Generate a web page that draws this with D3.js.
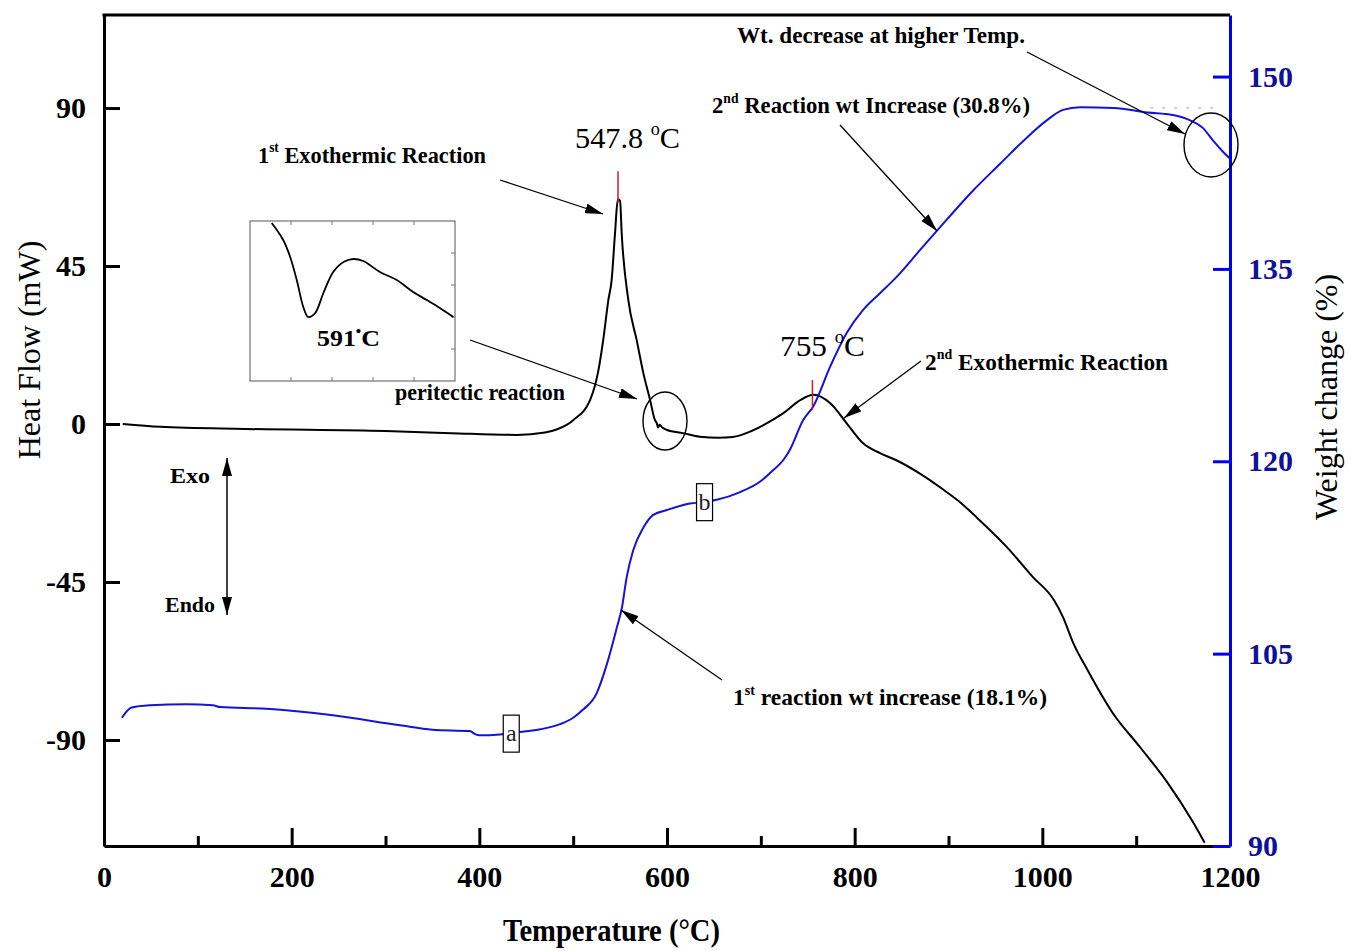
<!DOCTYPE html>
<html>
<head>
<meta charset="utf-8">
<script src="https://cdn.jsdelivr.net/npm/d3@7"></script>
<style>
  body { margin: 0; background: #fff; }
  text { font-family: "Liberation Serif", "Times New Roman", serif; }
</style>
</head>
<body>
<div id="chart"></div>
<script>
// DSC curve (heat flow, mW) vs temperature
const dscTemp = [20, 60, 150, 300, 370, 440, 470, 483, 500, 518, 527, 532, 537.5, 541, 544.6, 547.6, 550,
  551.7, 558.8, 567.7, 574.8, 582, 587.2, 589, 590.5, 592, 595, 600, 617, 635, 655, 670, 690, 707, 724, 742, 756,
  774, 791.5, 809, 827, 845, 870, 894, 912, 930, 962, 990, 1012, 1022, 1033, 1048, 1075, 1104, 1133, 1161, 1173];
const dscFlow = [0, -0.8, -1.4, -2.0, -2.6, -3.1, -2.4, -1.5, 1.1, 6.8, 15.4, 23.9, 35.3, 41, 54.3, 64, 63.5,
  54.4, 35.3, 23.9, 14.5, 6.8, 1.1, 0.3, -1.0, -0.2, -1.0, -1.7, -2.6, -3.6, -3.9, -3.7, -2.0, 0.3, 3.1, 6.8, 8.3,
  5.9, 0.2, -5.5, -8.3, -10.4, -14.2, -18.6, -22.2, -26.6, -35, -43.6, -50, -55, -62.4, -70, -82.3, -92, -102, -113.6, -119.3];

// TGA curve (weight change, %) vs temperature
const tgaTemp = [19, 29.5, 49, 88, 116, 124, 173, 244, 315.5, 350, 390, 396, 400, 422, 443, 465, 486, 500, 510, 525, 536,
  546.6, 552, 557, 564, 575, 585, 600, 624.5, 638, 653, 678, 699, 713, 724, 731, 745, 756, 774, 791.5, 809,
  827, 845, 870, 888, 926, 955, 980, 1005, 1022, 1040, 1076, 1112, 1139, 1157, 1171, 1182, 1193, 1200];
const tgaWeight = [100.0, 100.8, 100.97, 101.05, 100.97, 100.83, 100.7, 100.19, 99.41, 99.07, 98.96, 98.7, 98.63,
  98.7, 98.89, 99.1, 99.5, 100.0, 100.6, 101.9, 104.2, 107.05, 108.6, 110.95, 113.06, 114.85, 115.8, 116.2, 116.7, 116.8,
  117.0, 117.6, 118.4, 119.3, 120.1, 120.9, 123.2, 124.3, 127.4, 130.0, 131.8, 133.1, 134.4, 136.5, 138.0, 141.1,
  143.2, 145.0, 146.6, 147.4, 147.6, 147.55, 147.2, 147.0, 146.6, 146.0, 145.0, 144.1, 143.6];

// inset: zoom on the peritectic dip
const insetTemp = [582.3, 585.1, 586.8, 588.4, 590.0, 591.2, 592.9, 594.9, 597.3, 599.8, 602.2, 604.6, 608.7,
  612.8, 616.8, 620.1, 623.3, 626.6];
const insetFlow = [-0.02, -0.19, -0.36, -0.59, -0.86, -0.96, -0.92, -0.72, -0.51, -0.41, -0.38, -0.40, -0.51,
  -0.59, -0.71, -0.79, -0.87, -0.96];

const tempTicks = [0, 200, 400, 600, 800, 1000, 1200];
const tempMinorTicks = [100, 300, 500, 700, 900, 1100];
const flowTicks = [-90, -45, 0, 45, 90];
const weightTicks = [90, 105, 120, 135, 150];

const peakTemps = [547.8, 755];
const peakLow = [63, 4];
const peakHigh = [72, 12.5];

const pointLabels = ["a", "b"];
const pointTemps = [434, 640];
const pointWeights = [98.8, 116.85];

const plateauTemps = [1115, 1188];
const plateauWeight = 147.55;

const W = 1351, H = 951;
const plotLeft = 104, plotRight = 1230, plotTop = 15, plotBottom = 846;

const svg = d3.select("#chart").append("svg")
  .attr("width", W).attr("height", H);

const defs = svg.append("defs");
defs.append("marker")
  .attr("id", "head")
  .attr("viewBox", "0 0 18 10")
  .attr("refX", 18).attr("refY", 5)
  .attr("markerWidth", 18).attr("markerHeight", 10)
  .attr("markerUnits", "userSpaceOnUse")
  .attr("orient", "auto-start-reverse")
  .append("path").attr("d", "M0,0 L18,5 L0,10 Z").attr("fill", "#000");

const x = d3.scaleLinear().domain([0, 1200]).range([plotLeft, plotRight]);
const yFlow = d3.scaleLinear().domain([-120.2, 116.5]).range([plotBottom, plotTop]);
const yWeight = d3.scaleLinear().domain([90, 154.8]).range([plotBottom, plotTop]);

// curves
const flowLine = d3.line().x(d => x(d[0])).y(d => yFlow(d[1])).curve(d3.curveMonotoneX);
const weightLine = d3.line().x(d => x(d[0])).y(d => yWeight(d[1])).curve(d3.curveMonotoneX);

svg.append("path")
  .datum(dscTemp.map((t, i) => [t, dscFlow[i]]))
  .attr("d", flowLine)
  .attr("fill", "none").attr("stroke", "#000").attr("stroke-width", 2);

svg.append("path")
  .datum(tgaTemp.map((t, i) => [t, tgaWeight[i]]))
  .attr("d", weightLine)
  .attr("fill", "none").attr("stroke", "#1414d2").attr("stroke-width", 2);

svg.append("line")
  .attr("x1", x(plateauTemps[0])).attr("x2", x(plateauTemps[1]))
  .attr("y1", yWeight(plateauWeight)).attr("y2", yWeight(plateauWeight))
  .attr("stroke", "#b5b5b5").attr("stroke-width", 1.2).attr("stroke-dasharray", "3,9");

// peak markers
svg.selectAll(".peak")
  .data(peakTemps)
  .join("line")
  .attr("class", "peak")
  .attr("x1", d => x(d)).attr("x2", d => x(d))
  .attr("y1", (d, i) => yFlow(peakLow[i])).attr("y2", (d, i) => yFlow(peakHigh[i]))
  .attr("stroke", "#c8202a").attr("stroke-width", 1.5);

// a / b boxes on the TGA curve
const boxes = svg.selectAll(".pt")
  .data(pointLabels)
  .join("g")
  .attr("class", "pt")
  .attr("transform", (d, i) => `translate(${x(pointTemps[i])},${yWeight(pointWeights[i])})`);
boxes.append("rect")
  .attr("x", -8).attr("y", -18).attr("width", 16).attr("height", 37)
  .attr("fill", "#fff").attr("stroke", "#000").attr("stroke-width", 1.2);
boxes.append("text")
  .attr("text-anchor", "middle").attr("y", 8)
  .style("font-size", "24px").attr("fill", "#222")
  .text(d => d);

// axes
const plain = d => String(d);
const xAxis = svg.append("g")
  .attr("transform", `translate(0,${plotBottom})`)
  .call(d3.axisBottom(x).tickValues(tempTicks).tickFormat(plain)
    .tickSizeInner(-18).tickSizeOuter(0).tickPadding(20));
svg.append("g")
  .attr("transform", `translate(0,${plotBottom})`)
  .call(d3.axisBottom(x).tickValues(tempMinorTicks).tickSizeInner(-10).tickSizeOuter(0).tickFormat(""))
  .call(g => g.select(".domain").remove());

const yAxis = svg.append("g")
  .attr("transform", `translate(${plotLeft},0)`)
  .call(d3.axisLeft(yFlow).tickValues(flowTicks).tickFormat(plain)
    .tickSizeInner(-16).tickSizeOuter(0).tickPadding(18));

const wAxis = svg.append("g")
  .attr("transform", `translate(${plotRight},0)`)
  .call(d3.axisRight(yWeight).tickValues(weightTicks).tickFormat(plain)
    .tickSizeInner(-17).tickSizeOuter(0).tickPadding(18));

svg.selectAll(".domain, .tick line").attr("stroke-width", 3);
[xAxis, yAxis].forEach(g => {
  g.selectAll(".domain, .tick line").attr("stroke", "#000");
  g.selectAll("text").attr("fill", "#000");
});
wAxis.selectAll(".domain, .tick line").attr("stroke", "#0000f0");
wAxis.selectAll("text").attr("fill", "#10109a");
svg.selectAll(".tick text")
  .style("font-family", "'Liberation Serif', serif")
  .style("font-size", "30px").style("font-weight", "bold");

svg.append("line")
  .attr("x1", plotLeft - 1.5).attr("x2", plotRight).attr("y1", plotTop).attr("y2", plotTop)
  .attr("stroke", "#000").attr("stroke-width", 3);

// axis titles
svg.append("text")
  .attr("transform", "translate(40,350) rotate(-90)")
  .attr("text-anchor", "middle")
  .style("font-size", "32px")
  .text("Heat Flow (mW)");
svg.append("text")
  .attr("transform", "translate(1337,397) rotate(-90)")
  .attr("text-anchor", "middle")
  .style("font-size", "32px")
  .text("Weight change (%)");
svg.append("text")
  .attr("x", 503).attr("y", 941)
  .attr("textLength", 217).attr("lengthAdjust", "spacingAndGlyphs")
  .style("font-size", "32px").style("font-weight", "bold")
  .text("Temperature (°C)");

// inset
const xi = d3.scaleLinear().domain([577, 627]).range([250, 455]);
const yi = d3.scaleLinear().domain([-1.6, 0]).range([381, 221]);
const inset = svg.append("g");
inset.append("rect")
  .attr("x", 250).attr("y", 221).attr("width", 205).attr("height", 160)
  .attr("fill", "none").attr("stroke", "#555").attr("stroke-width", 1);
inset.selectAll(".itx")
  .data([587, 597, 607, 617])
  .join("path")
  .attr("d", d => `M${xi(d)},221v4M${xi(d)},381v-4`)
  .attr("stroke", "#777").attr("stroke-width", 1);
inset.selectAll(".ity")
  .data([-1.28, -0.96, -0.64, -0.32])
  .join("path")
  .attr("d", d => `M455,${yi(d)}h-4`)
  .attr("stroke", "#777").attr("stroke-width", 1);
inset.append("path")
  .datum(insetTemp.map((t, i) => [t, insetFlow[i]]))
  .attr("d", d3.line().x(d => xi(d[0])).y(d => yi(d[1])).curve(d3.curveCatmullRom))
  .attr("fill", "none").attr("stroke", "#000").attr("stroke-width", 1.8);

// annotations
function label(px, py, parts, size, weight, len) {
  const t = svg.append("text").attr("x", px).attr("y", py)
    .style("font-size", size + "px").style("font-weight", weight);
  let up = false;
  parts.forEach(p => {
    const sup = p.startsWith("^");
    const s = t.append("tspan").text(sup ? p.slice(1) : p);
    if (sup) {
      s.attr("dy", -size * 0.45).style("font-size", (size * 0.6) + "px");
      up = true;
    } else if (up) {
      s.attr("dy", size * 0.45);
      up = false;
    }
  });
  if (len) t.attr("textLength", len).attr("lengthAdjust", "spacingAndGlyphs");
  return t;
}

label(258, 163, ["1", "^st", " Exothermic Reaction"], 24, "bold", 228);
label(575, 148, ["547.8 ", "^o", "C"], 30, "normal", 105);
label(780, 356, ["755 ", "^o", "C"], 30, "normal", 85);
label(317, 346, ["591", "^•", "C"], 23, "bold", 63);
label(395, 400, ["peritectic reaction"], 23, "bold", 170);
label(170, 483, ["Exo"], 21, "bold", 40);
label(165, 612, ["Endo"], 21, "bold", 50);
label(733, 705, ["1", "^st", " reaction  wt increase (18.1%)"], 23, "bold", 314);
label(925, 370, ["2", "^nd", " Exothermic Reaction"], 24, "bold", 243);
label(712, 113, ["2", "^nd", " Reaction wt Increase (30.8%)"], 23, "bold", 318);
label(737, 43, ["Wt. decrease at higher Temp."], 23, "bold", 288);

const arrows = [
  [500, 180, 603, 214],
  [470, 340, 637, 399],
  [722, 680, 621, 610],
  [921, 361, 844, 418],
  [840, 125, 937, 231],
  [1027, 52, 1185, 134]
];
svg.selectAll(".arrow")
  .data(arrows)
  .join("line")
  .attr("class", "arrow")
  .attr("x1", d => d[0]).attr("y1", d => d[1])
  .attr("x2", d => d[2]).attr("y2", d => d[3])
  .attr("stroke", "#000").attr("stroke-width", 1.3)
  .attr("marker-end", "url(#head)");

svg.append("line")
  .attr("x1", 227).attr("y1", 458).attr("x2", 227).attr("y2", 615)
  .attr("stroke", "#000").attr("stroke-width", 1.5)
  .attr("marker-start", "url(#head)").attr("marker-end", "url(#head)");

svg.selectAll(".ring")
  .data([[665, 421, 22, 29], [1211, 145, 27, 32]])
  .join("ellipse")
  .attr("class", "ring")
  .attr("cx", d => d[0]).attr("cy", d => d[1])
  .attr("rx", d => d[2]).attr("ry", d => d[3])
  .attr("fill", "none").attr("stroke", "#000").attr("stroke-width", 1.4);
</script>
</body>
</html>
